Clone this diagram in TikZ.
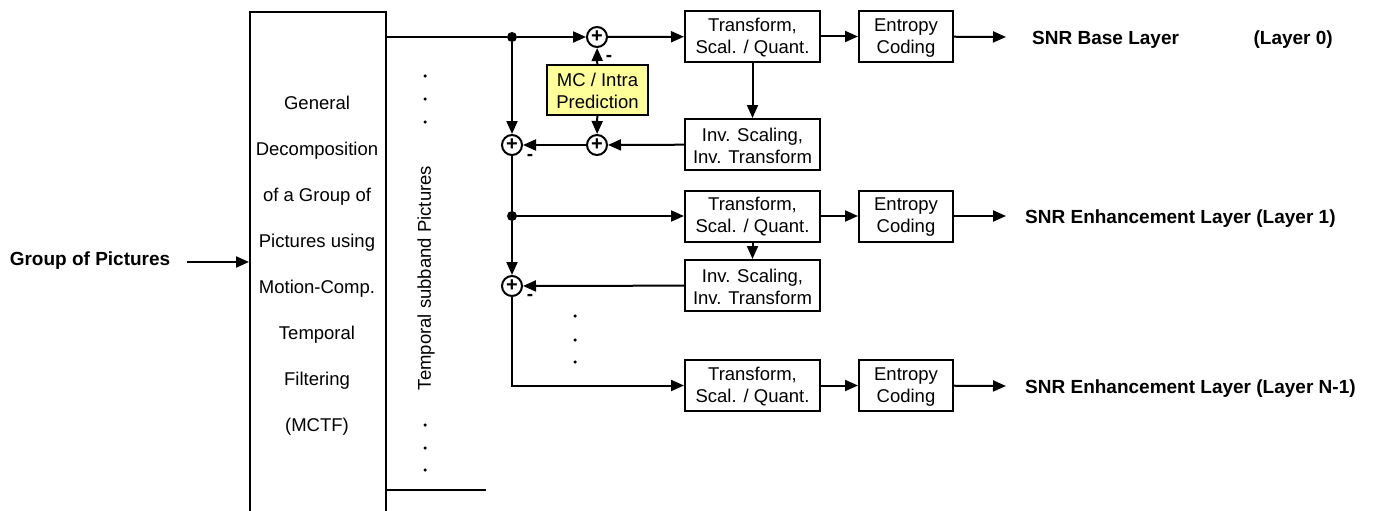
\documentclass[tikz,border=0pt]{standalone}
\usepackage{fontspec}
\setmainfont{Liberation Sans}
\usetikzlibrary{arrows.meta}
\definecolor{mcyellow}{HTML}{FFFF99}
\begin{document}
\begin{tikzpicture}[x=1pt,y=-1pt,
  every node/.style={font=\fontsize{18.5}{22}\selectfont},
  box/.style={draw, line width=2pt, align=center, inner sep=0pt, minimum height=51pt},
  tbox/.style={box, minimum width=135pt},
  ebox/.style={box, minimum width=94pt},
  sumn/.style={circle, draw, line width=2pt, minimum size=20pt, inner sep=0pt, font=\fontsize{20}{20}\selectfont\bfseries},
  dotn/.style={circle, fill, minimum size=10pt, inner sep=0pt},
  arr/.style={line width=2pt, -{Triangle[length=13pt,width=11pt]}},
  ln/.style={line width=2pt},
  lbl/.style={font=\fontsize{19}{22}\selectfont\bfseries, anchor=west, inner sep=0pt},
  minus/.style={font=\fontsize{19}{19}\selectfont\bfseries, inner sep=0pt},
  vdot/.style={circle, fill, minimum size=3.5pt, inner sep=0pt}
]
\useasboundingbox (0,0) rectangle (1374,511);
\clip (0,0) rectangle (1374,511);

% MCTF box (open at the bottom, runs off the page)
\node[draw, line width=2pt, minimum width=136pt, minimum height=540pt, anchor=north west, inner sep=0pt] (mctf) at (249,11) {};
\node[align=center, font=\fontsize{18.5}{46}\selectfont] (mctft) at (317,266)
  {General\\Decomposition\\of a Group of\\Pictures using\\Motion-Comp.\\Temporal\\Filtering\\(MCTF)};

% input
\node[font=\fontsize{19}{22}\selectfont\bfseries, inner sep=0pt] (gop) at (90,261) {Group of Pictures};
\coordinate (gopstart) at (187,262);
\draw[arr] (gopstart) -- (mctf.west |- gopstart);

% temporal subband
\node[rotate=90, inner sep=0pt] (tsp) at (426,278) {Temporal subband Pictures};
\node[vdot] (d1) at (425,76) {};
\node[vdot] (d2) at (425,99) {};
\node[vdot] (d3) at (425,122) {};
\node[vdot] (d4) at (425,425) {};
\node[vdot] (d5) at (425,448) {};
\node[vdot] (d6) at (425,470) {};
\coordinate (bend) at (486,490);
\draw[ln] (mctf.east |- bend) -- (bend);

% layer 0
\node[dotn] (j1) at (512,37) {};
\node[sumn] (p0) at (597,37) {+};
\node[tbox] (t1) at (752.5,36.5) {\strut Transform,\\Scal. / Quant.};
\node[ebox] (e1) at (906,36.5) {\strut Entropy\\Coding};
\coordinate (o1) at (1006,37);
\node[lbl] (l1) at (1032,40) {SNR Base Layer};
\node[lbl, anchor=east] (l1b) at (1333,40) {(Layer 0)};
\node[box, fill=mcyellow, minimum width=101pt, minimum height=50pt] (mc) at (597.5,90) {\strut MC / Intra\\Prediction};
\node[sumn] (pm) at (597,145) {+};
\node[sumn] (s1) at (512,145) {+};
\node[tbox] (i1) at (752.5,144.5) {\strut Inv. Scaling,\\Inv. Transform};

\draw[ln] (mctf.east |- j1) -- (j1);
\draw[arr] (j1) -- (p0);
\draw[arr] (p0) -- (t1);
\draw[arr] (t1) -- (e1);
\draw[arr] (e1) -- (o1);
\draw[arr] (t1) -- (i1);
\draw[arr] (i1) -- (pm);
\draw[arr] (mc) -- (p0);
\draw[arr] (mc) -- (pm);
\draw[arr] (pm) -- (s1);
\draw[arr] (j1) -- (s1);
\node[minus] (m0) at (609,58) {-};
\node[minus] (m1) at (530,157) {-};

% layer 1
\node[dotn] (j2) at (512,216) {};
\node[tbox] (t2) at (752.5,216) {\strut Transform,\\Scal. / Quant.};
\node[ebox] (e2) at (906,216) {\strut Entropy\\Coding};
\coordinate (o2) at (1006,216);
\node[lbl] (l2) at (1025,219) {SNR Enhancement Layer (Layer 1)};
\node[tbox] (i2) at (752.5,285.5) {\strut Inv. Scaling,\\Inv. Transform};
\node[sumn] (s2) at (512,286) {+};
\node[minus] (m2) at (530,297) {-};

\draw[ln] (s1) -- (j2);
\draw[arr] (j2) -- (t2);
\draw[arr] (t2) -- (e2);
\draw[arr] (e2) -- (o2);
\draw[arr] (t2.south -| i2.north) -- (i2);
\draw[arr] (i2) -- (s2);
\draw[arr] (j2) -- (s2);

\node[vdot] (d7) at (575,316) {};
\node[vdot] (d8) at (575,340) {};
\node[vdot] (d9) at (575,362) {};

% layer N-1
\node[tbox] (t3) at (752.5,385.5) {\strut Transform,\\Scal. / Quant.};
\node[ebox] (e3) at (906,385.5) {\strut Entropy\\Coding};
\coordinate (o3) at (1006,386);
\node[lbl] (l3) at (1025,389) {SNR Enhancement Layer (Layer N-1)};
\draw[arr] (s2) |- (t3);
\draw[arr] (t3) -- (e3);
\draw[arr] (e3) -- (o3);
\end{tikzpicture}
\end{document}
